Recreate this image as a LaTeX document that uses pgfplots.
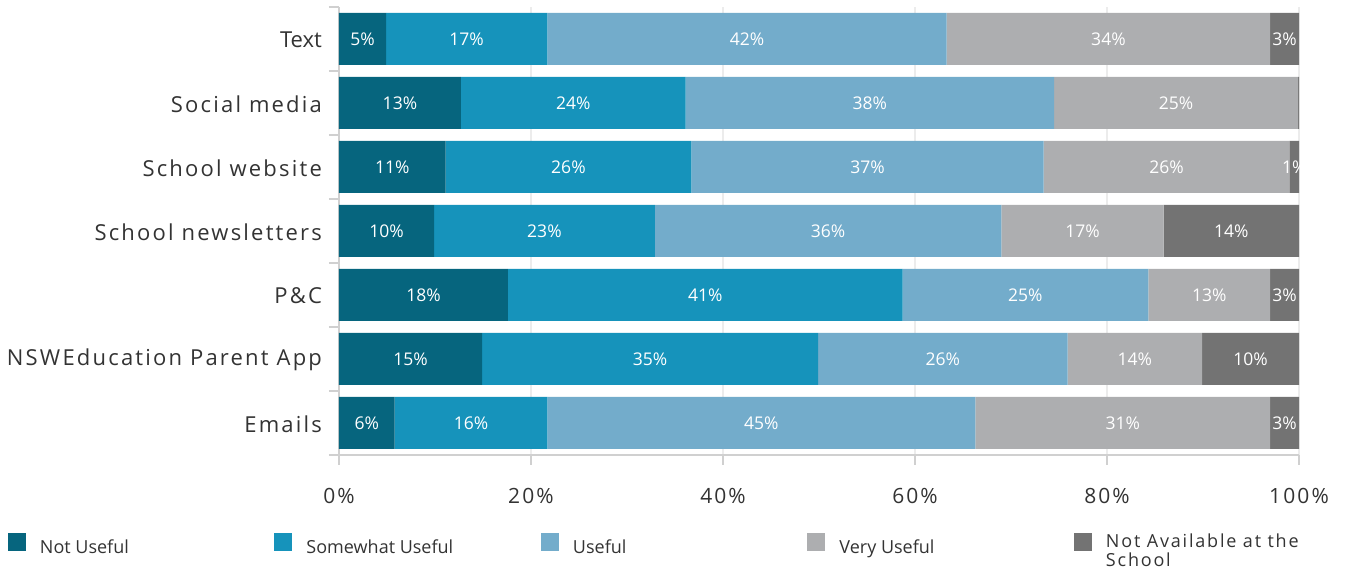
\documentclass[border=0pt]{standalone}
\usepackage{pgfplots}
\pgfplotsset{compat=1.18}
\usepackage{fontspec}
\setmainfont{Open Sans}
\newcommand{\lsp}[1]{{\addfontfeatures{LetterSpace=10}#1}}
\definecolor{cNot}{RGB}{6,101,126}
\definecolor{cSome}{RGB}{22,147,187}
\definecolor{cUse}{RGB}{115,172,203}
\definecolor{cVery}{RGB}{173,174,176}
\definecolor{cNA}{RGB}{115,115,115}
\definecolor{axisgray}{RGB}{208,208,208}
\definecolor{gridgray}{RGB}{236,236,236}
\definecolor{txt}{RGB}{51,51,51}
\begin{document}
\begin{tikzpicture}
\begin{axis}[
  scale only axis, width=480pt, height=224pt,
  xbar stacked, bar width=26pt,
  xmin=0, xmax=100, ymin=-0.5, ymax=6.5,
  axis x line*=bottom, axis y line*=left,
  axis line style={axisgray, line width=1.3pt, -},
  tick align=outside, major tick length=5pt,
  tick style={axisgray, line width=1.3pt},
  xtick={0,20,...,100},
  xticklabels={\lsp{0\%},\lsp{20\%},\lsp{40\%},\lsp{60\%},\lsp{80\%},\lsp{100\%}},
  xticklabel style={font=\fontsize{10.5}{12}\selectfont, text=txt, yshift=-8pt},
  xmajorgrids, major grid style={gridgray, line width=1.2pt},
  ytick={-0.5,0.5,...,6.5}, yticklabels={},
  extra y ticks={0,1,2,3,4,5,6},
  extra y tick labels={\lsp{Emails},\lsp{NSWEducation Parent App},\lsp{P\&C},\lsp{School newsletters},\lsp{School website},\lsp{Social media},Text},
  extra y tick style={major tick length=0pt, ymajorgrids=false, yticklabel style={font=\fontsize{11}{13}\selectfont, text=txt, xshift=-5pt, yshift=-0.5pt}},
  point meta=explicit symbolic,
  nodes near coords={\pgfplotspointmeta},
  nodes near coords style={text=white, font=\fontsize{8.75}{10}\selectfont},
  legend image code/.code={\fill[#1] (0pt,-1.3pt) rectangle (9pt,7.7pt);},
  legend columns=5,
  legend style={draw=none, fill=none, inner sep=0pt, outer sep=0pt,
    at={(-0.3448,-0.2076)}, anchor=west,
    nodes={inner sep=0pt, text=txt, font=\fontsize{9}{9.5}\selectfont},
    /tikz/every odd column/.style={column sep=7pt},
    /tikz/every even column/.style={column sep=9.25pt}},
]
\addplot[fill=cNot, draw=none] coordinates {(5.8,0)[6\%] (14.9,1)[15\%] (17.6,2)[18\%] (9.9,3)[10\%] (11.1,4)[11\%] (12.7,5)[13\%] (4.9,6)[5\%]};
\addlegendentry{\makebox[108pt][l]{Not Useful}}
\addplot[fill=cSome, draw=none] coordinates {(15.9,0)[16\%] (35.0,1)[35\%] (41.1,2)[41\%] (23.0,3)[23\%] (25.6,4)[26\%] (23.4,5)[24\%] (16.8,6)[17\%]};
\addlegendentry{\makebox[108pt][l]{Somewhat Useful}}
\addplot[fill=cUse, draw=none] coordinates {(44.6,0)[45\%] (26.0,1)[26\%] (25.6,2)[25\%] (36.1,3)[36\%] (36.7,4)[37\%] (38.4,5)[38\%] (41.6,6)[42\%]};
\addlegendentry{\makebox[108pt][l]{Useful}}
\addplot[fill=cVery, draw=none] coordinates {(30.7,0)[31\%] (14.0,1)[14\%] (12.7,2)[13\%] (16.9,3)[17\%] (25.6,4)[26\%] (25.4,5)[25\%] (33.7,6)[34\%]};
\addlegendentry{\makebox[108pt][l]{Very Useful}}
\addplot[fill=cNA, draw=none] coordinates {(3.0,0)[3\%] (10.1,1)[10\%] (3.0,2)[3\%] (14.1,3)[14\%] (1.0,4)[1\%] (0.2,5)[\relax] (3.0,6)[3\%]};
\addlegendentry{\raisebox{2.5pt}{\parbox[c]{108pt}{\lsp{Not Available at the}\\\lsp{School}}}}
\coordinate (BL) at (axis cs:-35.3125,-2.28125);
\coordinate (TR) at (axis cs:104.896,6.6094);
\end{axis}
\pgfresetboundingbox
\useasboundingbox (BL) rectangle (TR);
\end{tikzpicture}
\end{document}
